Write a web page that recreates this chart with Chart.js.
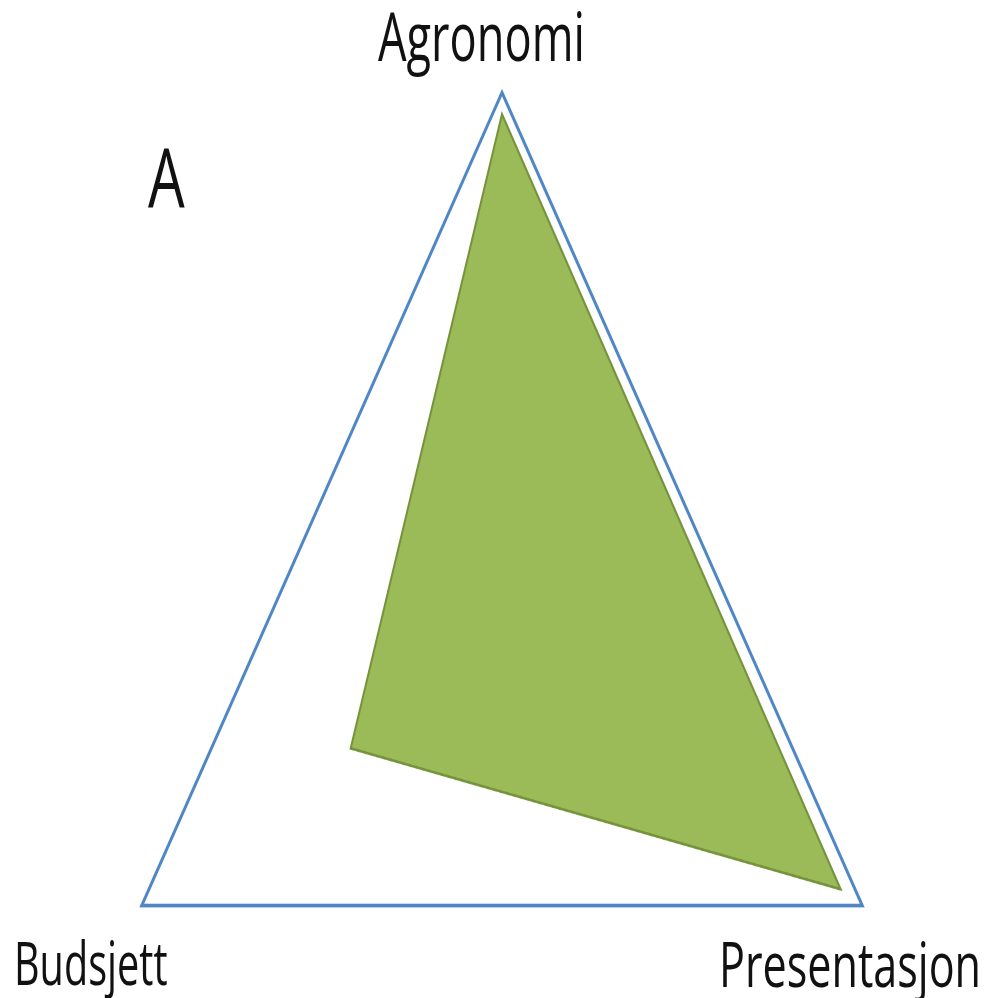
<!DOCTYPE html>
<html>
<head>
<meta charset="utf-8">
<script src="https://cdn.jsdelivr.net/npm/chart.js@4/dist/chart.umd.min.js"></script>
<style>
  html, body { margin: 0; padding: 0; background: #fff; }
  #page { position: relative; width: 994px; height: 998px; overflow: hidden; background: #fff; }
  #stretch { position: absolute; left: 0; top: 0; width: 994px; height: 766px; transform-origin: 0 0; transform: scaleY(1.3029); }
  #chartBox { position: absolute; left: 76px; top: 60.6px; width: 852px; height: 852px; }
  .lbl { position: absolute; left: 0; top: 0; white-space: nowrap; line-height: 1; color: #111; font-family: "Open Sans", sans-serif; font-weight: 400; }
</style>
</head>
<body>
<div id="page">
  <div id="stretch">
    <div id="chartBox"><canvas id="c" width="852" height="852" style="width:852px;height:852px"></canvas></div>
  </div>
</div>
<script>
// ---- data ----
const categories = ['Agronomi', 'Presentasjon', 'Budsjett'];
const scores = [9.6, 9.4, 4.2];
const scaleMax = 10;
const panelTitle = 'A';

// ---- chart ----
const chart = new Chart(document.getElementById('c'), {
  type: 'radar',
  data: {
    labels: categories,
    datasets: [{
      data: scores,
      backgroundColor: '#9BBB59',
      borderColor: '#76933C',
      borderWidth: 2,
      pointRadius: 0,
      pointHoverRadius: 0,
      fill: true,
      tension: 0
    }]
  },
  options: {
    responsive: false,
    devicePixelRatio: 2,
    animation: false,
    layout: { padding: 10 },
    plugins: { legend: { display: false }, tooltip: { enabled: false }, title: { display: false } },
    scales: {
      r: {
        min: 0,
        max: scaleMax,
        ticks: { display: false, stepSize: scaleMax },
        grid: { color: '#4F86C6', lineWidth: 2.8 },
        angleLines: { display: false },
        pointLabels: { display: false }
      }
    }
  }
});

// ---- text labels (real DOM text), fitted to the reference's glyph boxes ----
const mctx = document.createElement('canvas').getContext('2d');
function placeLabel(text, inkLeft, inkWidth, baseline, capH, size) {
  const page = document.getElementById('page');
  const div = document.createElement('div');
  div.className = 'lbl';
  div.style.fontSize = size + 'px';
  div.textContent = text;
  const marker = document.createElement('span');
  marker.style.cssText = 'display:inline-block;width:0;height:0;';
  div.appendChild(marker);
  page.appendChild(div);
  const baseOff = marker.offsetTop;
  mctx.font = '400 ' + size + 'px "Open Sans", sans-serif';
  const m = mctx.measureText(text);
  const inkW = m.actualBoundingBoxLeft + m.actualBoundingBoxRight;
  const cap = mctx.measureText('H').actualBoundingBoxAscent;
  const sx = inkWidth / inkW;
  const sy = capH / cap;
  div.style.transformOrigin = '0px ' + baseOff + 'px';
  div.style.transform = 'scale(' + sx + ',' + sy + ')';
  div.style.left = (inkLeft + m.actualBoundingBoxLeft * sx) + 'px';
  div.style.top = (baseline - baseOff) + 'px';
}
placeLabel(categories[0], 378, 204, 61, 48, 64);
placeLabel(categories[2], 17, 150, 985, 43, 60);
placeLabel(categories[1], 723, 255, 987, 44, 60);
placeLabel(panelTitle, 148, 37, 208, 60, 80);
</script>
</body>
</html>
